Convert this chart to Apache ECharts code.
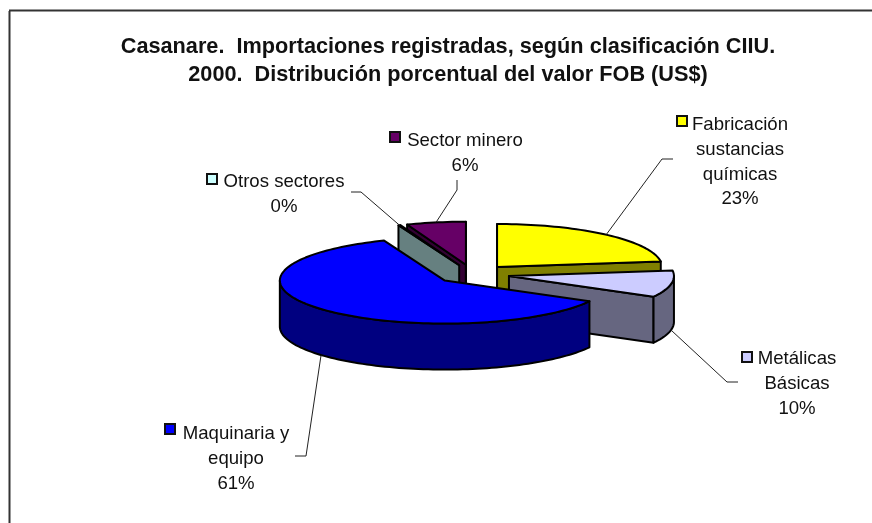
<!DOCTYPE html>
<html>
<head>
<meta charset="utf-8">
<style>html,body{margin:0;padding:0;background:#fff}#c{width:872px;height:523px}</style>
<script src="https://cdn.jsdelivr.net/npm/echarts@6/dist/echarts.min.js"></script>
</head>
<body>
<div id="c"></div>
<script>
// Data (clockwise from 12 o'clock)
var categories = ['Fabricación\nsustancias\nquímicas', 'Metálicas\nBásicas', 'Maquinaria y\nequipo', 'Otros sectores', 'Sector minero'];
var values = [23, 10, 61, 0.2, 5.8];
var titleText = 'Casanare.  Importaciones registradas, según clasificación CIIU.\n2000.  Distribución porcentual del valor FOB (US$)';

// Styles
var topColors = ['#FFFF00', '#CCCCFF', '#0000FF', '#CCFFFF', '#660066'];
var sideColors = ['#808000', '#666680', '#000080', '#668080', '#330033'];
var drawOrder = [4, 3, 0, 1, 2];

// Layout of the 3D pie
var pie = {cx: 472.6, cy: 274.2, rx: 165, ry: 43, depth: 46, explode: 37};
// Label centre x, first line centre y, key left, key top, leader start, leader elbow
var labelLayout = [
  {x: 740, y: 125, kx: 677, ky: 116, lx: 673, ly: 159, ex: 662, ey: 159},
  {x: 797, y: 359, kx: 742, ky: 352, lx: 738, ly: 382, ex: 727, ey: 382},
  {x: 236, y: 434, kx: 165, ky: 424, lx: 295, ly: 456, ex: 306, ey: 456},
  {x: 284, y: 182, kx: 207, ky: 174, lx: 351, ly: 192, ex: 361, ey: 192},
  {x: 465, y: 141, kx: 390, ky: 132, lx: 457, ly: 180, ex: 457, ey: 190}
];
var fontFamily = 'Liberation Sans, Arial, sans-serif';
var labelSize = 18.6, labelLine = 24.7, edge = 2;

var total = values.reduce(function (a, b) { return a + b; }, 0);
var starts = [], acc = 0;
values.forEach(function (v) { starts.push(acc / total * 2 * Math.PI); acc += v; });

function pt(o, a, dz) {
  return [o[0] + pie.rx * Math.sin(a), o[1] - pie.ry * Math.cos(a) + (dz || 0)];
}
function arcPts(o, a0, a1, dz) {
  var n = Math.max(2, Math.ceil((a1 - a0) / 0.03)), out = [];
  for (var i = 0; i <= n; i++) out.push(pt(o, a0 + (a1 - a0) * i / n, dz));
  return out;
}

function renderItem(params, api) {
  var i = api.value(0), v = api.value(1);
  var a0 = starts[i], a1 = a0 + v / total * 2 * Math.PI, mid = (a0 + a1) / 2;
  var o = [pie.cx + pie.explode * Math.sin(mid), pie.cy - pie.explode * pie.ry / pie.rx * Math.cos(mid)];
  var kids = [], z = params.dataIndex * 10;
  var d = pie.depth;
  function poly(points, fill, zz) {
    kids.push({type: 'polygon', z2: z + zz, silent: true, shape: {points: points},
      style: {fill: fill, stroke: '#000', lineWidth: edge, lineJoin: 'round'}});
  }
  function wall(a, zz) {
    var p = pt(o, a);
    poly([o, p, [p[0], p[1] + d], [o[0], o[1] + d]], sideColors[i], zz);
  }
  // radial walls that face the viewer
  if (Math.sin(a0) <= 1e-6) wall(a0, 1);
  if (Math.sin(a1) >= -1e-6) wall(a1, 1);
  // outer rim on the front half
  var f0 = Math.max(a0, Math.PI / 2), f1 = Math.min(a1, 3 * Math.PI / 2);
  if (f1 > f0) {
    poly(arcPts(o, f0, f1).concat(arcPts(o, f0, f1, d).reverse()), sideColors[i], 2);
  }
  // top face
  poly([o].concat(arcPts(o, a0, a1)), topColors[i], 3);

  // leader line, from the label to the slice edge at its middle angle
  var L = labelLayout[i];
  var front = Math.cos(mid) < 0;
  var end = pt(o, mid, front ? d : 0);
  kids.push({type: 'polyline', z2: 100, silent: true,
    shape: {points: [[L.lx, L.ly], [L.ex, L.ey], end]},
    style: {fill: 'none', stroke: '#222', lineWidth: 1}});

  // legend key and label text
  kids.push({type: 'rect', z2: 101, silent: true, shape: {x: L.kx, y: L.ky, width: 10, height: 10},
    style: {fill: topColors[i], stroke: '#111', lineWidth: 2}});
  kids.push({type: 'text', z2: 101, silent: true,
    style: {text: categories[i] + '\n' + Math.round(v) + '%', x: L.x, y: L.y - labelLine / 2,
      align: 'center', verticalAlign: 'top', fontFamily: fontFamily, fontSize: labelSize,
      lineHeight: labelLine, fill: '#111'}});
  return {type: 'group', children: kids};
}

var chart = echarts.init(document.getElementById('c'), null, {renderer: 'canvas'});
chart.setOption({
  animation: false,
  backgroundColor: '#fff',
  title: {
    text: titleText, left: 443, top: 28, textAlign: 'center',
    textStyle: {fontFamily: fontFamily, fontSize: 21.7, fontWeight: 'bold', color: '#111', lineHeight: 28}
  },
  series: [{
    type: 'custom', coordinateSystem: 'none', silent: true,
    renderItem: renderItem,
    data: drawOrder.map(function (i) { return [i, values[i]]; })
  }],
  graphic: [
    {type: 'line', silent: true, shape: {x1: 9.5, y1: 11, x2: 9.5, y2: 523}, style: {stroke: '#333', lineWidth: 2}},
    {type: 'line', silent: true, shape: {x1: 9, y1: 10.5, x2: 872, y2: 10.5}, style: {stroke: '#333', lineWidth: 2}}
  ]
});
</script>
</body>
</html>
